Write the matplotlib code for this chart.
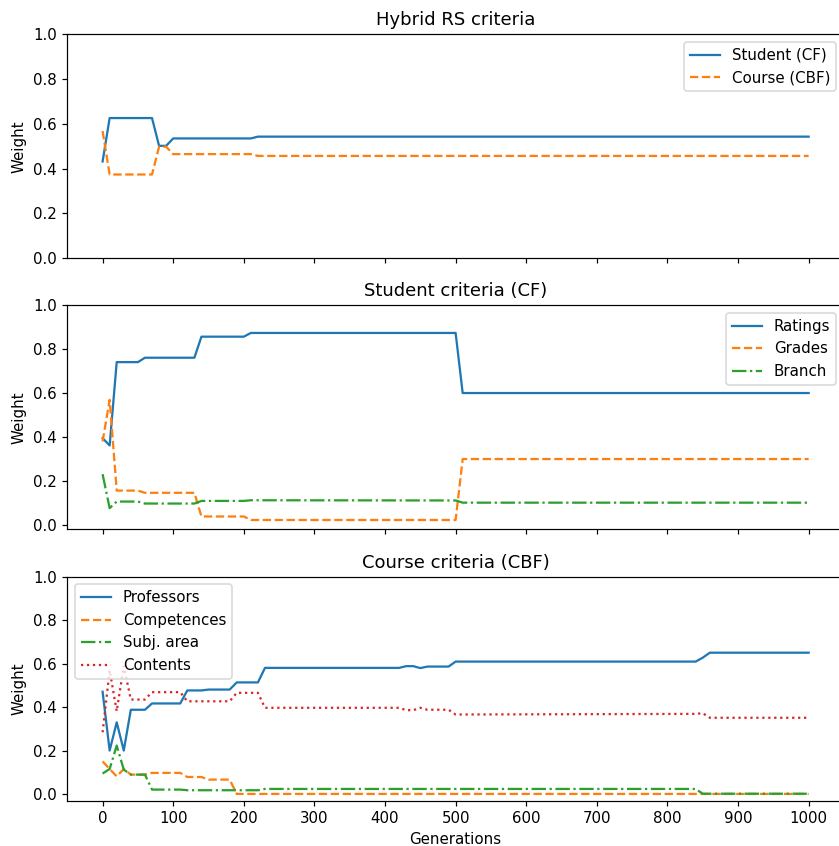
import numpy as np
import matplotlib
matplotlib.use("Agg")
import matplotlib.pyplot as plt

# Hybrid RS criteria (generation, weight) at the change points
hyb_gen = [0, 10, 70, 80, 90, 100, 210, 220, 1000]
hyb_student = [0.432, 0.626, 0.626, 0.502, 0.502, 0.535, 0.535, 0.543, 0.543]
hyb_course = [0.568, 0.374, 0.374, 0.498, 0.498, 0.465, 0.465, 0.457, 0.457]

# Student criteria (CF)
stu_gen = [0, 10, 20, 50, 60, 130, 140, 200, 210, 500, 510, 1000]
stu_ratings = [0.394, 0.361, 0.741, 0.741, 0.761, 0.761, 0.857, 0.857,
               0.874, 0.874, 0.600, 0.600]
stu_grades = [0.379, 0.569, 0.155, 0.155, 0.145, 0.145, 0.037, 0.037,
              0.021, 0.021, 0.299, 0.299]
stu_branch = [0.230, 0.075, 0.105, 0.105, 0.096, 0.096, 0.108, 0.108,
              0.111, 0.110, 0.100, 0.100]

# Course criteria (CBF)
crs_gen = [0, 10, 20, 30, 40, 60, 70, 110, 120, 140, 150, 180, 190, 220,
           230, 420, 430, 440, 450, 460, 490, 500, 840, 850, 860, 1000]
crs_professors = [0.471, 0.200, 0.330, 0.200, 0.388, 0.388, 0.417, 0.417,
                  0.477, 0.477, 0.481, 0.481, 0.514, 0.514, 0.581, 0.581,
                  0.589, 0.589, 0.580, 0.587, 0.587, 0.610, 0.610, 0.628,
                  0.651, 0.651]
crs_competences = [0.150, 0.115, 0.081, 0.115, 0.089, 0.089, 0.097, 0.097,
                   0.078, 0.078, 0.066, 0.066, 0.000, 0.000, 0.000, 0.000,
                   0.000, 0.000, 0.000, 0.000, 0.000, 0.000, 0.000, 0.000,
                   0.000, 0.000]
crs_subj_area = [0.094, 0.115, 0.223, 0.112, 0.089, 0.089, 0.020, 0.020,
                 0.017, 0.017, 0.017, 0.017, 0.017, 0.017, 0.023, 0.023,
                 0.023, 0.023, 0.023, 0.023, 0.023, 0.023, 0.023, 0.001,
                 0.001, 0.001]
crs_contents = [0.284, 0.570, 0.381, 0.590, 0.435, 0.435, 0.469, 0.469,
                0.427, 0.427, 0.427, 0.427, 0.466, 0.466, 0.397, 0.397,
                0.386, 0.386, 0.397, 0.388, 0.388, 0.366, 0.369, 0.372,
                0.351, 0.351]

DPI = 108
fig = plt.figure(figsize=(839 / DPI, 846 / DPI), dpi=DPI)
left, width, height = 0.0802, 0.9257, 0.2648
ax1 = fig.add_axes([left, 0.6947, width, height])
ax2 = fig.add_axes([left, 0.3743, width, height], sharex=ax1)
ax3 = fig.add_axes([left, 0.0532, width, height], sharex=ax1)

ax1.plot(hyb_gen, hyb_student, "-", label="Student (CF)")
ax1.plot(hyb_gen, hyb_course, "--", label="Course (CBF)")
ax1.set_ylim(0, 1)
ax1.set_title("Hybrid RS criteria")
ax1.legend(loc="upper right")

ax2.plot(stu_gen, stu_ratings, "-", label="Ratings")
ax2.plot(stu_gen, stu_grades, "--", label="Grades")
ax2.plot(stu_gen, stu_branch, "-.", label="Branch")
ax2.set_ylim(top=1)
ax2.set_title("Student criteria (CF)")
ax2.legend(loc="upper right")

ax3.plot(crs_gen, crs_professors, "-", label="Professors")
ax3.plot(crs_gen, crs_competences, "--", label="Competences")
ax3.plot(crs_gen, crs_subj_area, "-.", label="Subj. area")
ax3.plot(crs_gen, crs_contents, ":", label="Contents")
ax3.set_ylim(top=1)
ax3.set_title("Course criteria (CBF)")
ax3.legend(loc="upper left")
ax3.set_xlabel("Generations")

for ax in (ax1, ax2, ax3):
    ax.set_ylabel("Weight")
    ax.set_yticks(np.arange(0, 1.01, 0.2))
ax3.set_xticks(np.arange(0, 1001, 100))
ax3.set_xlim(-50, 1050)
plt.setp(ax1.get_xticklabels(), visible=False)
plt.setp(ax2.get_xticklabels(), visible=False)

fig.savefig("out.png", dpi=DPI)
